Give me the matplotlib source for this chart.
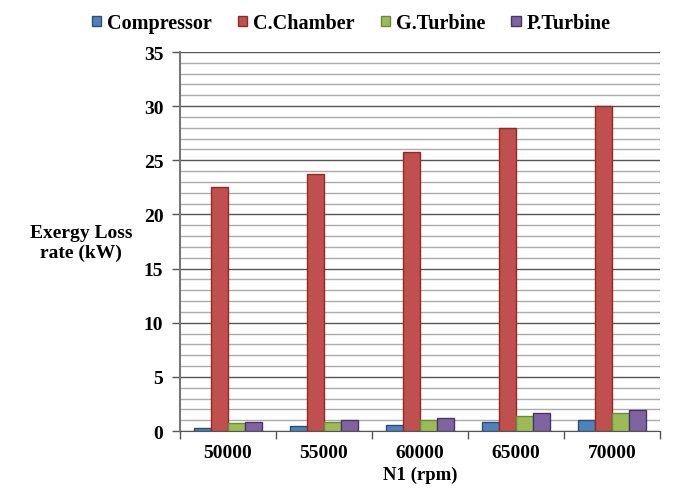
import matplotlib
matplotlib.use("Agg")
import matplotlib.pyplot as plt
import numpy as np
from matplotlib.ticker import MultipleLocator

categories = ["50000", "55000", "60000", "65000", "70000"]
series_names = ["Compressor", "C.Chamber", "G.Turbine", "P.Turbine"]
compressor = [0.25, 0.43, 0.52, 0.8, 1.0]
c_chamber = [22.5, 23.7, 25.8, 28.0, 30.0]
g_turbine = [0.7, 0.85, 1.0, 1.38, 1.66]
p_turbine = [0.85, 1.0, 1.2, 1.66, 1.9]
values = [compressor, c_chamber, g_turbine, p_turbine]
colors = ["#4F81BD", "#C0504D", "#9BBB59", "#8064A2"]
edges = ["#2C4D75", "#8C2B28", "#6B8A35", "#4B3566"]

plt.rcParams['font.family'] = ['Liberation Serif', 'DejaVu Serif']
plt.rcParams['font.weight'] = 'bold'

fig = plt.figure(figsize=(6.73, 5.02), dpi=100)
ax = fig.add_axes([0.2675, 0.1394, 0.7132, 0.755])

x = np.arange(len(categories))
bw = 0.177
for i, (name, vals) in enumerate(zip(series_names, values)):
    offs = (i - 1.5) * bw
    ax.bar(x + offs, vals, width=bw, color=colors[i], edgecolor=edges[i],
           linewidth=1.0, label=name, zorder=3)

ax.set_xlim(-0.5, len(categories) - 0.5)
ax.set_ylim(0, 35)
ax.yaxis.set_major_locator(MultipleLocator(5))
ax.yaxis.set_minor_locator(MultipleLocator(1))
ax.grid(axis='y', which='major', color='#555555', linewidth=1.0, zorder=0)
ax.grid(axis='y', which='minor', color='#aaaaaa', linewidth=1.0, zorder=0)
ax.tick_params(axis='y', which='minor', length=0)
ax.tick_params(axis='y', which='major', length=6, width=1, color='#555555', labelsize=14, pad=6)

ax.set_xticks(x)
ax.set_xticklabels(categories, fontsize=14, fontweight='bold')
ax.set_xticks(np.arange(-0.5, len(categories)), minor=True)
ax.tick_params(axis='x', which='major', length=0, pad=9)
ax.tick_params(axis='x', which='minor', length=6, width=1, color='#555555')

for s in ['top', 'right']:
    ax.spines[s].set_visible(False)
ax.spines['left'].set_color('#777777')
ax.spines['left'].set_linewidth(1.5)
ax.spines['bottom'].set_color('#555555')

for lbl in ax.get_yticklabels():
    lbl.set_fontweight('bold')

ax.set_xlabel("N1 (rpm)", fontsize=13.5, fontweight='bold', labelpad=4)
fig.text(0.12, 0.515, "Exergy Loss\nrate (kW)", ha='center', va='center',
         fontsize=14, fontweight='bold', linespacing=1.2)

leg = fig.legend(loc='center', bbox_to_anchor=(0.522, 0.952), ncol=4, frameon=False,
                 fontsize=14.5, handlelength=0.45, handleheight=0.45, handletextpad=0.3,
                 columnspacing=1.3)
for t in leg.get_texts():
    t.set_fontweight('bold')

fig.savefig("out.png", dpi=100)
